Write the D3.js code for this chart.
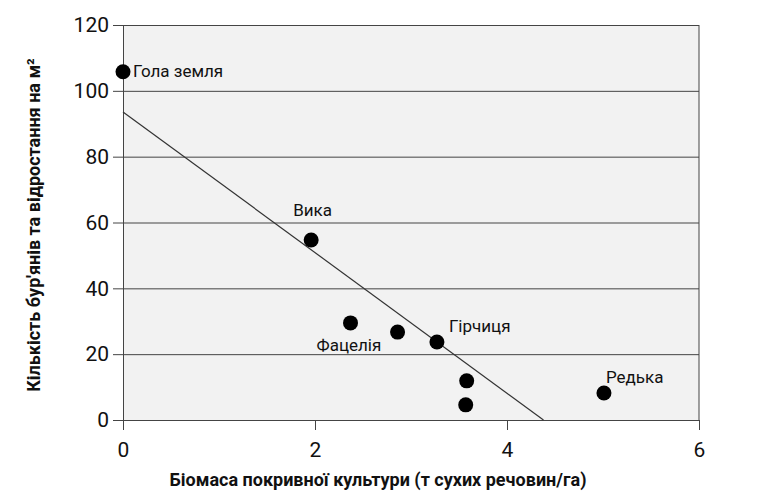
<!DOCTYPE html><html><head><meta charset="utf-8"><script src="https://cdn.jsdelivr.net/npm/d3@7"></script>
<style>body{margin:0;background:#fff}text{font-family:Roboto,"Noto Sans",sans-serif}</style></head><body><svg width="770" height="500"></svg>
<script>
const biomass=[0,1.96,2.37,2.86,3.27,3.58,3.57,5.01];
const weeds=[105.8,54.7,29.5,26.7,23.7,11.9,4.6,8.2];
const labels=["Гола земля","Вика","Фацелія","","Гірчиця","","","Редька"];
const lineX=[0,4.38], lineY=[93.6,0];
const xTicks=[0,2,4,6], yTicks=[0,20,40,60,80,100,120];
const svg=d3.select("svg");
const x=d3.scaleLinear().domain([0,6]).range([123,699]);
const y=d3.scaleLinear().domain([0,120]).range([420,25]);
svg.append("rect").attr("x",x(0)).attr("y",y(120)).attr("width",x(6)-x(0)).attr("height",y(0)-y(120)).attr("fill","#f2f2f2");
const c="#444";
const ya=svg.append("g").attr("transform",`translate(${x(0)},0)`).call(d3.axisLeft(y).tickValues(yTicks).tickSize(10).tickSizeOuter(0));
ya.selectAll("line").attr("x2",x(6)-x(0)).attr("x1",-10).attr("stroke",c);
ya.select(".domain").attr("stroke",c);
ya.selectAll("text").attr("font-size",21).attr("fill","#111").attr("x",-14);
const xa=svg.append("g").attr("transform",`translate(0,${y(0)})`).call(d3.axisBottom(x).tickValues(xTicks).tickFormat(d3.format("d")).tickSize(10).tickSizeOuter(0));
xa.selectAll("line").attr("stroke",c);xa.select(".domain").attr("stroke",c);
xa.selectAll("text").attr("font-size",21).attr("fill","#111").attr("dy",24);
svg.append("line").attr("x1",x(6)).attr("x2",x(6)).attr("y1",y(0)).attr("y2",y(120)).attr("stroke",c);
svg.append("line").attr("x1",x(lineX[0])).attr("y1",y(lineY[0])).attr("x2",x(lineX[1])).attr("y2",y(lineY[1])).attr("stroke","#333").attr("stroke-width",1.2);
svg.selectAll("circle.p").data(biomass).enter().append("circle").attr("cx",d=>x(d)).attr("cy",(d,i)=>y(weeds[i])).attr("r",7.5).attr("fill","#000");
const off=[[10,5],[-18,-24],[-34,28],[0,0],[12,-10],[0,0],[0,0],[2,-10]];
labels.forEach((l,i)=>{if(!l)return;svg.append("text").attr("x",x(biomass[i])+off[i][0]).attr("y",y(weeds[i])+off[i][1]).attr("font-size",17).attr("fill","#111").text(l);});
svg.append("text").attr("x",378).attr("y",486).attr("text-anchor","middle").attr("font-size",18).attr("font-weight","bold").attr("fill","#111").text("Біомаса покривної культури (т сухих речовин/га)");
svg.append("text").attr("transform","translate(40,225) rotate(-90)").attr("text-anchor","middle").attr("font-size",18).attr("font-weight","bold").attr("fill","#111").text("Кількість бур'янів та відростання на м²");
</script></body></html>
